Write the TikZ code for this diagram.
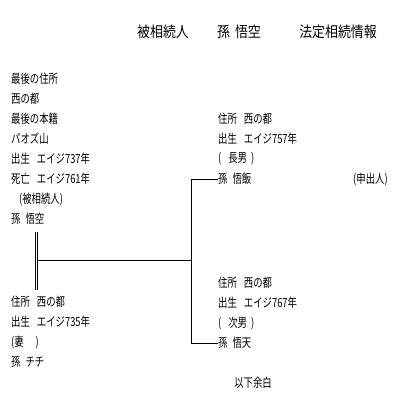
\documentclass[tikz,border=0pt]{standalone}
\usepackage{fontspec}
\setmainfont{Noto Sans CJK JP}[FakeStretch=0.75]
\newfontfamily\titlefont{Noto Sans CJK JP}[FakeStretch=0.86]
\usetikzlibrary{positioning}

\begin{document}
\begin{tikzpicture}[x=1pt, y=-1pt,
  entry/.style={anchor=west, inner sep=0pt, font=\fontsize{12.5}{14}\selectfont},
  heading/.style={anchor=center, inner sep=0pt, font=\titlefont\fontsize{15}{17}\selectfont},
  link/.style={line width=1pt},
  marriage/.style={double, double distance=1.2pt, line width=0.8pt}]
\useasboundingbox (0,0) rectangle (406,406);
% header
\node[heading] (hdrA) at (163,32) {被相続人};
\node[heading] (hdrB) at (239,32) {孫\hspace{5pt}悟空};
\node[heading] (hdrC) at (338,32) {法定相続情報};
% deceased
\node[entry] (lastAddr)  at (11,79)  {最後の住所};
\node[entry] (lastAddrV) at (11,99)  {西の都};
\node[entry] (lastReg)   at (11,119) {最後の本籍};
\node[entry] (lastRegV)  at (11,139) {パオズ山};
\node[entry] (gokuBorn)  at (11,159) {出生\hspace{7pt}エイジ737年};
\node[entry] (gokuDied)  at (11,179) {死亡\hspace{7pt}エイジ761年};
\node[entry] (gokuRole)  at (19,199) {(被相続人)};
\node[entry] (goku)      at (11,219) {孫\hspace{5pt}悟空};
% spouse
\node[entry] (chichiAddr) at (11,302) {住所\hspace{7pt}西の都};
\node[entry] (chichiBorn) at (11,322) {出生\hspace{7pt}エイジ735年};
\node[entry] (chichiRole) at (11,342) {(妻\hspace{12pt})};
\node[entry] (chichi)     at (11,362) {孫\hspace{5pt}チチ};
% first son
\node[entry] (gohanAddr) at (218,119) {住所\hspace{7pt}西の都};
\node[entry] (gohanBorn) at (218,139) {出生\hspace{7pt}エイジ757年};
\node[entry] (gohanRole) at (218,159) {(\hspace{7pt}長男\hspace{4pt})};
\node[entry] (gohan)     at (218,179) {孫\hspace{5pt}悟飯};
\node[entry] (applicant) at (353,179) {(申出人)};
% second son
\node[entry] (gotenAddr) at (218,283) {住所\hspace{7pt}西の都};
\node[entry] (gotenBorn) at (218,303) {出生\hspace{7pt}エイジ767年};
\node[entry] (gotenRole) at (218,323) {(\hspace{7pt}次男\hspace{4pt})};
\node[entry] (goten)     at (218,343) {孫\hspace{5pt}悟天};
\node[anchor=center, inner sep=0pt, font=\fontsize{12.5}{14}\selectfont] (blank) at (253,383) {以下余白};
% lines
\coordinate (coupleTop) at (36.7,232);
\coordinate (coupleBot) at (36.7,290);
\coordinate (coupleMid) at (38,260.7);
\coordinate (branch)    at (190.7,260.7);
\draw[marriage] (coupleTop) -- (coupleBot);
\draw[link] (coupleMid) -- (branch);
\draw[link] (gohan.west) -- ++(-27,0) |- (goten.west);
\end{tikzpicture}
\end{document}
